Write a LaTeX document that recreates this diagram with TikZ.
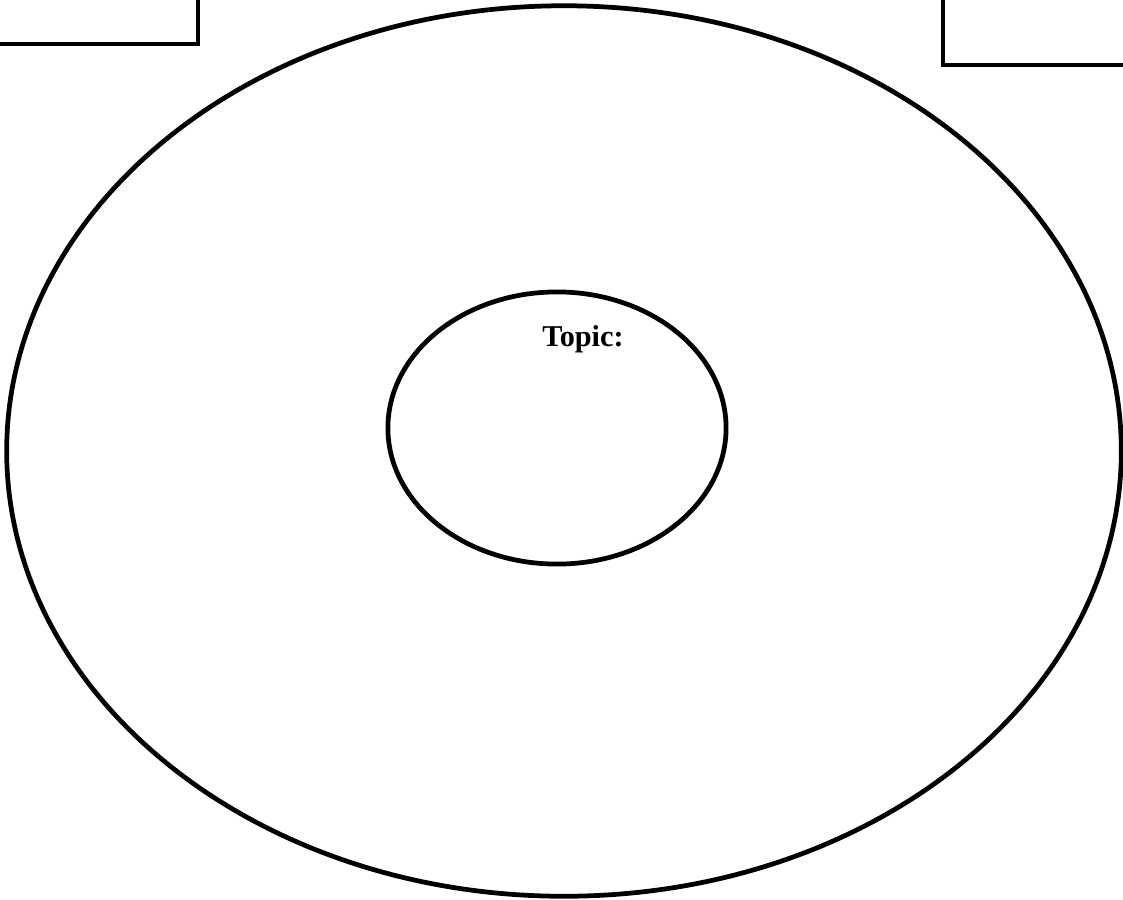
\documentclass[tikz,border=0pt]{standalone}
\usepackage{fontspec}
\setmainfont{Liberation Serif}
\usetikzlibrary{shapes.geometric, positioning}

\begin{document}
\begin{tikzpicture}[
  x=0.01cm, y=-0.01cm,
  every node/.style={font=\fontsize{8.6}{10}\selectfont\bfseries},
  ring/.style={ellipse, draw, line width=1.35pt, inner sep=0pt},
  corner/.style={rectangle, draw, line width=1.2pt, inner sep=0pt}
]
\useasboundingbox (0,0) rectangle (1123,899);

% Boxes cut by the page edge
\node[corner, minimum width=2.60cm, minimum height=1.04cm] (boxL) at (68,-8) {};
\node[corner, minimum width=2.50cm, minimum height=1.05cm] (boxR) at (1068,12.5) {};

% Rings
\node[ring, minimum width=11.14cm, minimum height=8.90cm] (outer) at (564,451) {};
\node[ring, minimum width=3.38cm, minimum height=2.72cm] (inner) at (557,428) {};

% Label
\node (topic) at (583,339) {Topic:};

\end{tikzpicture}
\end{document}
